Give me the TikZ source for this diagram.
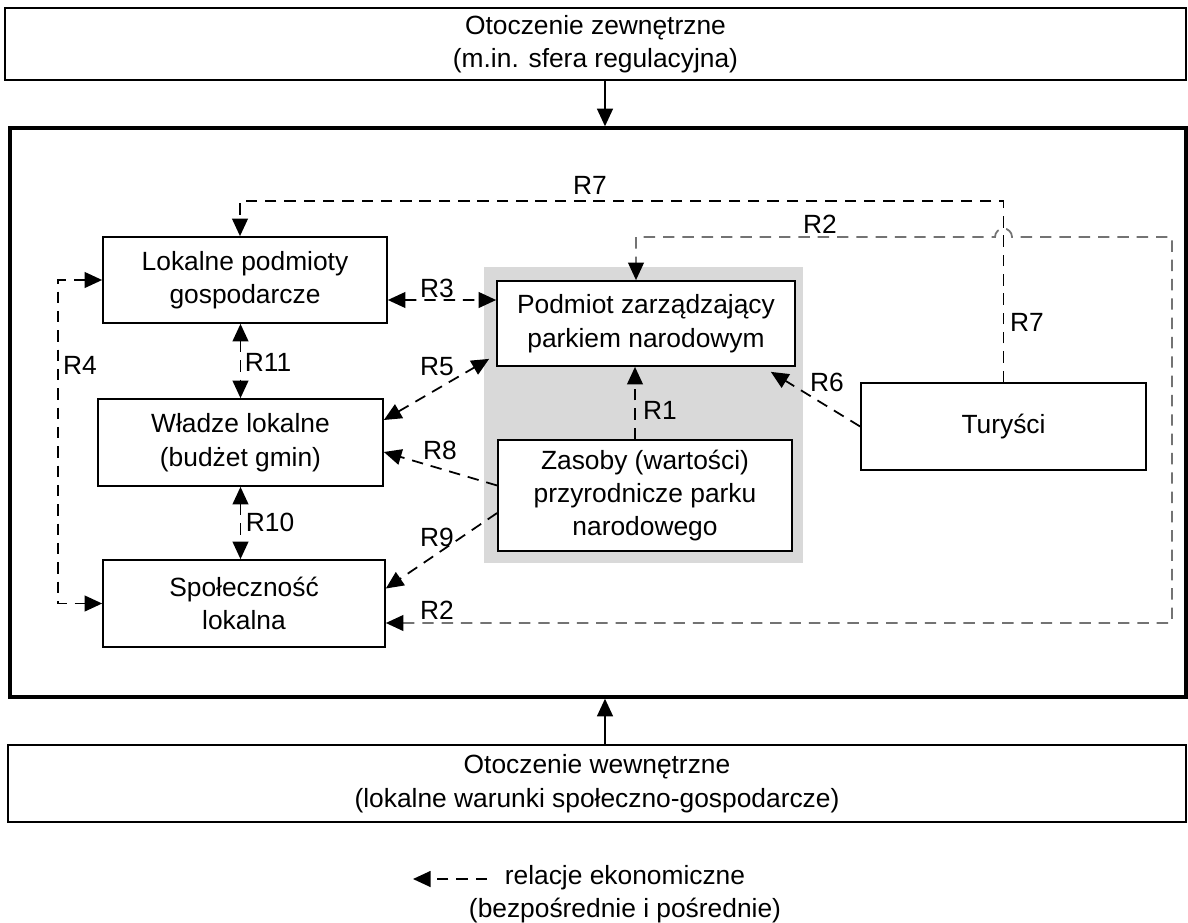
\documentclass[tikz,border=0pt]{standalone}
\usepackage{fontspec}
\setmainfont{Liberation Sans}
\usetikzlibrary{arrows.meta}

\tikzset{
  box/.style={draw,line width=1pt,fill=white,align=center,inner sep=2pt},
  rel/.style={dash pattern=on 6.5pt off 4.5pt,line width=1pt},
  relgray/.style={rel,draw=black!55},
  lbl/.style={inner sep=1pt}
}

\begin{document}
\begin{tikzpicture}[x=0.02cm, y=-0.02cm, >={Triangle[length=10pt,width=9pt,color=black]},
  font=\fontsize{15}{19}\selectfont]
  \useasboundingbox (0,0) rectangle (1188,923);
  % surroundings and system frame
  \node [box,minimum width=23.62cm,minimum height=1.44cm] (oz) at (595.5,44) {Otoczenie zewnętrzne\\(m.in. sfera regulacyjna)};
  \node [draw,line width=2pt,minimum width=23.52cm,minimum height=11.38cm] (sys) at (598,412.5) {};
  \node [box,minimum width=23.56cm,minimum height=1.54cm] (ow) at (597,783.5) {Otoczenie wewnętrzne\\(lokalne warunki społeczno-gospodarcze)};
  \coordinate (ax) at (605,0);
  \draw [line width=1pt,->] (ax |- oz.south) -- (ax |- sys.north);
  \draw [line width=1pt,->] (ax |- ow.north) -- (ax |- sys.south);

  % national park
  \node [fill=gray!30,inner sep=0pt,minimum width=6.38cm,minimum height=5.92cm] (park) at (643.5,415) {};
  \node [box,minimum width=5.96cm,minimum height=1.7cm] (pzp) at (646,323.5) {Podmiot zarządzający\\parkiem narodowym};
  \node [box,minimum width=5.88cm,minimum height=2.22cm] (zas) at (645,495.5) {Zasoby (wartości)\\przyrodnicze parku\\narodowego};

  % local actors
  \node [box,minimum width=5.68cm,minimum height=1.72cm] (lpg) at (245,280) {Lokalne podmioty\\gospodarcze};
  \node [box,minimum width=5.7cm,minimum height=1.74cm] (wl) at (240.5,442.5) {Władze lokalne\\(budżet gmin)};
  \node [box,minimum width=5.64cm,minimum height=1.74cm] (sl) at (244,603.5) {Społeczność\\lokalna};
  \node [box,minimum width=5.7cm,minimum height=1.74cm] (tur) at (1003.5,426.5) {Turyści};

  % relations
  \coordinate (r7) at (240,201);
  \coordinate (r2a) at (1172,623);
  \coordinate (r2b) at (1172,237);
  \coordinate (r2c) at (636,237);
  \coordinate (r4) at (58,280);
  \coordinate (r1) at (635,0);
  \draw [rel,->] (tur.north) |- (r7) -- (r7 |- lpg.north);
  \draw [relgray,<->] (sl.east |- r2a) -- (r2a) -- (r2b) -- (1012,237)
        arc [start angle=0,end angle=180,radius=0.17cm] -- (r2c) -- (r2c |- pzp.north);
  \draw [rel,<->] ([yshift=-0.4cm]lpg.east) -- ([yshift=0.47cm]pzp.west);
  \draw [rel,<->] (wl.north |- lpg.south) -- (wl.north);
  \draw [rel,<->] (wl.south) -- (wl.south |- sl.north);
  \draw [rel,<->] (lpg.west) -- (r4) |- (sl.west);
  \draw [rel,<->] ([yshift=0.45cm]wl.east) -- ([xshift=-0.14cm,yshift=0.16cm]pzp.south west);
  \draw [rel,->] ([yshift=0.2cm]zas.west) -- ([yshift=-0.19cm]wl.east);
  \draw [rel,->] ([yshift=-0.35cm]zas.west) -- ([yshift=0.3cm]sl.east);
  \draw [rel,->] (r1 |- zas.north) -- (r1 |- pzp.south);
  \draw [rel,->] (tur.west) -- ([xshift=-0.5cm,yshift=-0.1cm]pzp.south east);

  \node [lbl] (l7a) at (590,185) {R7};
  \node [lbl,anchor=west] (l7b) at (1008,322) {R7};
  \node [lbl] (l2a) at (820,224) {R2};
  \node [lbl] (l2b) at (437,610) {R2};
  \node [lbl] (l3) at (437,288) {R3};
  \node [lbl] (l11) at (268,362) {R11};
  \node [lbl] (l10) at (270,522) {R10};
  \node [lbl] (l4) at (80,365) {R4};
  \node [lbl] (l5) at (437,367) {R5};
  \node [lbl] (l8) at (440,450) {R8};
  \node [lbl] (l9) at (437,537) {R9};
  \node [lbl] (l1) at (660,410) {R1};
  \node [lbl] (l6) at (827,382) {R6};

  % legend
  \coordinate (lga) at (487,879);
  \coordinate (lgb) at (413,879);
  \draw [rel,->] (lga) -- (lgb);
  \node [align=center] (leg) at (625,894) {relacje ekonomiczne\\(bezpośrednie i pośrednie)};
\end{tikzpicture}
\end{document}
